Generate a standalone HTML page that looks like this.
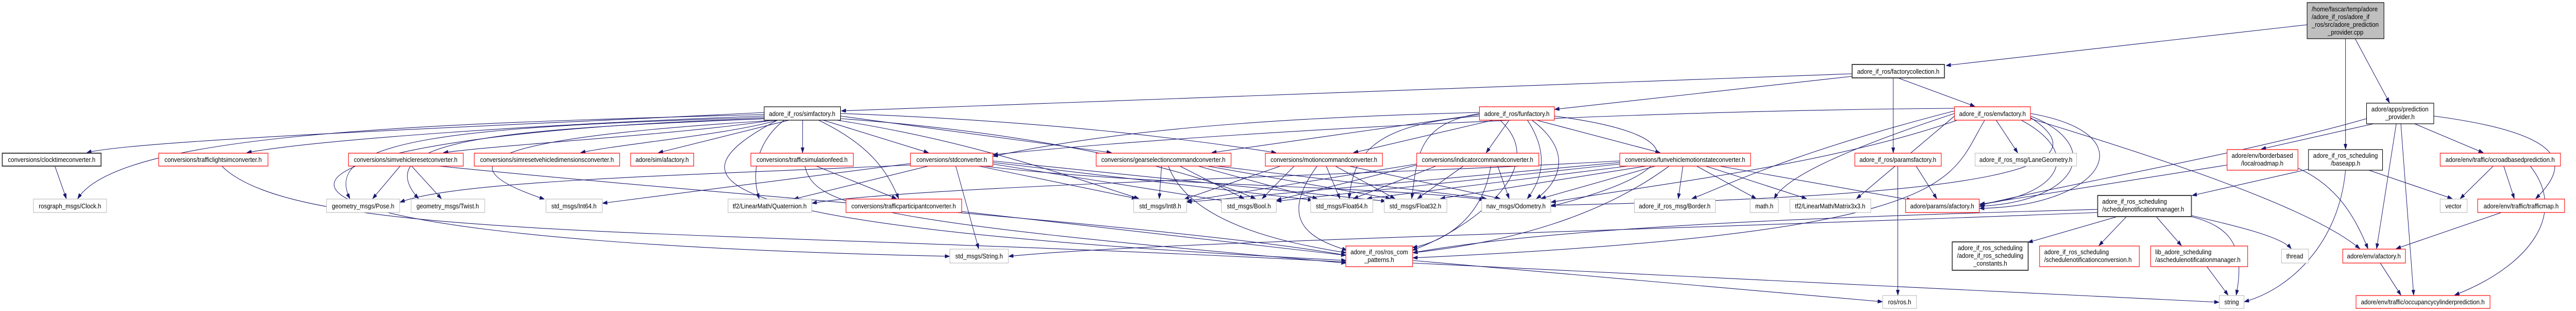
<!DOCTYPE html>
<html><head><meta charset="utf-8"><style>
html,body{margin:0;padding:0;background:#fff;width:100%;height:100%;overflow:hidden;}
svg{display:block;position:absolute;left:0;top:0;width:100vw;height:100vh;overflow:hidden;}
text{font-family:"Liberation Sans",Arial,sans-serif;font-size:13px;fill:#000;}
.e{fill:none;stroke:#191970;stroke-width:1.1;marker-end:url(#a);}
.r{fill:#fff;stroke:#ff0000;stroke-width:1.2;}
.g{fill:#fff;stroke:#bfbfbf;stroke-width:1.2;}
.b{fill:#fff;stroke:#000;stroke-width:1.2;}
.bb{fill:#fff;stroke:#404040;stroke-width:2;}
</style></head><body>
<svg viewBox="0 0 5633 603" preserveAspectRatio="none" xmlns="http://www.w3.org/2000/svg">
<defs><marker id="a" markerUnits="userSpaceOnUse" markerWidth="11" markerHeight="8" refX="10" refY="3.5" orient="auto"><path d="M0,0 L10,3.5 L0,7 z" fill="#191970" stroke="#191970"/></marker></defs>
<g>
<path class="e" d="M5045 48 L4256 127"/>
<path class="e" d="M5129 75 L5129 289"/>
<path class="e" d="M5150 75 L5225 199"/>
<path class="e" d="M4050 143 L1840 215"/>
<path class="e" d="M4050 148 L3400 212"/>
<path class="e" d="M4150 151 L4318 206"/>
<path class="e" d="M4140 151 L4140 296"/>
<path class="e" d="M1671 218 C1200 240, 300 270, 190 296"/>
<path class="e" d="M1671 222 C900 240, 260 260, 170 385"/>
<path class="e" d="M1671 225 C1200 240, 700 270, 540 296"/>
<path class="e" d="M1690 233 C1500 260, 1100 280, 970 296"/>
<path class="e" d="M1700 233 C1600 260, 1350 280, 1270 296"/>
<path class="e" d="M1725 233 L1440 296"/>
<path class="e" d="M1671 228 C1000 245, 700 270, 765 385"/>
<path class="e" d="M1680 230 C1100 250, 800 270, 915 385"/>
<path class="e" d="M1700 233 C1200 260, 900 300, 1190 386"/>
<path class="e" d="M1755 233 L1755 296"/>
<path class="e" d="M1800 233 L2030 296"/>
<path class="e" d="M1838 225 L2430 296"/>
<path class="e" d="M1838 220 C2300 235, 2600 270, 2790 296"/>
<path class="e" d="M1715 233 C1660 270, 1640 330, 1660 385"/>
<path class="e" d="M1790 233 C1900 280, 1940 330, 1965 385"/>
<path class="e" d="M1830 233 C2100 270, 2300 330, 2490 385"/>
<path class="e" d="M1838 230 C2300 260, 2600 330, 2745 385"/>
<path class="e" d="M1700 233 C1450 350, 1500 440, 2943 505"/>
<path class="e" d="M1671 230 C500 260, 200 460, 2076 497"/>
<path class="e" d="M485 322 C650 470, 1500 440, 2943 508"/>
<path class="e" d="M3265 233 L2960 296"/>
<path class="e" d="M3300 233 L3250 296"/>
<path class="e" d="M3360 233 L3630 296"/>
<path class="e" d="M3235 220 C3100 240, 3100 300, 3087 385"/>
<path class="e" d="M3340 233 C3390 300, 3370 350, 3340 385"/>
<path class="e" d="M3350 233 C3450 300, 3400 360, 3360 385"/>
<path class="e" d="M3235 225 C3000 240, 2960 300, 2950 385"/>
<path class="e" d="M3235 222 L2650 296"/>
<path class="e" d="M3235 218 C2700 230, 2400 260, 2172 303"/>
<path class="e" d="M3280 233 C3400 330, 3200 450, 3089 485"/>
<path class="e" d="M3399 225 C3700 260, 3700 330, 3392 400"/>
<path class="e" d="M4365 233 L4412 296"/>
<path class="e" d="M4420 233 C4560 300, 4500 380, 4329 396"/>
<path class="e" d="M4440 225 C4600 280, 4550 390, 4329 400"/>
<path class="e" d="M4440 220 C4700 260, 4600 400, 4329 404"/>
<path class="e" d="M4440 230 C4700 300, 5050 400, 5160 482"/>
<path class="e" d="M4340 233 C4260 350, 4300 450, 3090 500"/>
<path class="e" d="M4440 228 C4600 320, 4400 380, 3392 398"/>
<path class="e" d="M4280 233 C4000 320, 3600 360, 3392 392"/>
<path class="e" d="M4274 220 C4000 300, 3900 350, 3880 385"/>
<path class="e" d="M4274 225 L4060 385"/>
<path class="e" d="M4274 215 C3900 300, 3750 370, 3700 385"/>
<path class="e" d="M4274 210 C3500 215, 2600 260, 2172 300"/>
<path class="e" d="M4150 322 L4150 572"/>
<path class="e" d="M4190 322 L4235 385"/>
<path class="e" d="M3620 322 L3370 385"/>
<path class="e" d="M3680 322 L3670 385"/>
<path class="e" d="M3710 322 L3840 385"/>
<path class="e" d="M3730 322 L3950 385"/>
<path class="e" d="M3760 322 L4180 388"/>
<path class="e" d="M3650 322 C3500 420, 3300 470, 3090 490"/>
<path class="e" d="M3600 322 L3150 385"/>
<path class="e" d="M3560 322 L2990 385"/>
<path class="e" d="M3542 318 L2792 390"/>
<path class="e" d="M3542 315 L2596 392"/>
<path class="e" d="M3542 312 C3000 340, 2000 360, 1776 394"/>
<path class="e" d="M3200 322 L3100 385"/>
<path class="e" d="M3140 322 L2960 385"/>
<path class="e" d="M3275 322 L3300 385"/>
<path class="e" d="M3260 322 C3240 430, 3150 470, 3089 480"/>
<path class="e" d="M3098 320 L2792 388"/>
<path class="e" d="M3098 318 L2596 390"/>
<path class="e" d="M2900 322 L2930 385"/>
<path class="e" d="M2920 322 L3050 385"/>
<path class="e" d="M2950 322 L3280 385"/>
<path class="e" d="M2830 322 L2760 385"/>
<path class="e" d="M2800 322 L2590 386"/>
<path class="e" d="M2880 322 C2800 420, 2850 460, 2945 485"/>
<path class="e" d="M2540 322 L2535 385"/>
<path class="e" d="M2580 322 L2720 385"/>
<path class="e" d="M2620 322 L2880 385"/>
<path class="e" d="M2640 322 L3040 385"/>
<path class="e" d="M2660 322 L3250 385"/>
<path class="e" d="M2555 322 C2600 430, 2800 470, 2943 490"/>
<path class="e" d="M2030 322 L1736 386"/>
<path class="e" d="M2090 322 L2140 482"/>
<path class="e" d="M2140 322 L2485 385"/>
<path class="e" d="M2171 318 L2680 390"/>
<path class="e" d="M2171 315 L2870 388"/>
<path class="e" d="M2171 312 L3030 390"/>
<path class="e" d="M2150 322 C2500 360, 3000 360, 3245 387"/>
<path class="e" d="M1991 317 L1318 394"/>
<path class="e" d="M1991 320 C1500 340, 1000 350, 875 392"/>
<path class="e" d="M875 322 L815 385"/>
<path class="e" d="M900 322 L965 385"/>
<path class="e" d="M960 322 C1600 380, 2600 440, 2943 495"/>
<path class="e" d="M1785 322 L1960 385"/>
<path class="e" d="M1760 322 C1780 400, 1900 430, 2943 510"/>
<path class="e" d="M2103 410 L2943 495"/>
<path class="e" d="M120 322 L145 385"/>
<path class="e" d="M3089 505 L4116 585"/>
<path class="e" d="M3089 510 L4852 586"/>
<path class="e" d="M4587 412 C3500 450, 2500 470, 2206 497"/>
<path class="e" d="M4630 420 L4435 470"/>
<path class="e" d="M4650 420 L4590 476"/>
<path class="e" d="M4715 420 L4770 476"/>
<path class="e" d="M4792 418 C4900 440, 4990 460, 5010 482"/>
<path class="e" d="M4792 420 C4880 440, 4910 480, 4890 572"/>
<path class="e" d="M4587 406 C4000 420, 3400 440, 3090 490"/>
<path class="e" d="M4826 517 L4872 572"/>
<path class="e" d="M5180 330 L5362 385"/>
<path class="e" d="M5129 330 C5115 470, 5010 560, 4908 585"/>
<path class="e" d="M5048 328 L4794 379"/>
<path class="e" d="M5025 326 C5110 360, 5150 420, 5178 482"/>
<path class="e" d="M4870 320 L4330 396"/>
<path class="e" d="M5190 240 L4945 289"/>
<path class="e" d="M5280 240 L5430 296"/>
<path class="e" d="M5322 225 C5620 260, 5620 320, 5545 385"/>
<path class="e" d="M5240 240 L5197 482"/>
<path class="e" d="M5250 240 L5278 572"/>
<path class="e" d="M5175 230 C4900 300, 4500 360, 4330 398"/>
<path class="e" d="M5452 322 L5380 385"/>
<path class="e" d="M5475 322 L5498 385"/>
<path class="e" d="M5533 322 C5620 420, 5520 520, 5368 572"/>
<path class="e" d="M5470 412 L5240 482"/>
<path class="e" d="M5205 510 L5250 572"/>
</g>
<g>
<rect x="5045" y="5" width="168" height="70" fill="#bfbfbf" stroke="#000" stroke-width="1.2"/>
<text x="5055" y="22">/home/fascar/temp/adore</text>
<text x="5055" y="37">/adore_if_ros/adore_if</text>
<text x="5055" y="52">_ros/src/adore_prediction</text>
<text x="5129" y="67" text-anchor="middle">_provider.cpp</text>

<rect class="bb" x="4050" y="125" width="202" height="26"/><text x="4151" y="143" text-anchor="middle">adore_if_ros/factorycollection.h</text>
<rect class="b" x="1671" y="207" width="167" height="26"/><text x="1754" y="225" text-anchor="middle">adore_if_ros/simfactory.h</text>
<rect class="r" x="3235" y="207" width="164" height="26"/><text x="3317" y="225" text-anchor="middle">adore_if_ros/funfactory.h</text>
<rect class="r" x="4274" y="207" width="166" height="26"/><text x="4357" y="225" text-anchor="middle">adore_if_ros/envfactory.h</text>
<rect class="b" x="5175" y="200" width="147" height="40"/><text x="5248" y="216" text-anchor="middle">adore/apps/prediction</text><text x="5248" y="231" text-anchor="middle">_provider.h</text>

<rect class="bb" x="5" y="297" width="216" height="25"/><text x="113" y="314" text-anchor="middle">conversions/clocktimeconverter.h</text>
<rect class="r" x="347" y="297" width="239" height="25"/><text x="466" y="314" text-anchor="middle">conversions/trafficlightsimconverter.h</text>
<rect class="r" x="762" y="297" width="251" height="25"/><text x="887" y="314" text-anchor="middle">conversions/simvehicleresetconverter.h</text>
<rect class="r" x="1037" y="297" width="318" height="25"/><text x="1196" y="314" text-anchor="middle">conversions/simresetvehicledimensionsconverter.h</text>
<rect class="r" x="1379" y="297" width="138" height="25"/><text x="1448" y="314" text-anchor="middle">adore/sim/afactory.h</text>
<rect class="r" x="1642" y="297" width="224" height="25"/><text x="1754" y="314" text-anchor="middle">conversions/trafficsimulationfeed.h</text>
<rect class="r" x="1991" y="297" width="180" height="25"/><text x="2081" y="314" text-anchor="middle">conversions/stdconverter.h</text>
<rect class="r" x="2397" y="297" width="295" height="25"/><text x="2544" y="314" text-anchor="middle">conversions/gearselectioncommandconverter.h</text>
<rect class="r" x="2767" y="297" width="256" height="25"/><text x="2895" y="314" text-anchor="middle">conversions/motioncommandconverter.h</text>
<rect class="r" x="3098" y="297" width="267" height="25"/><text x="3231" y="314" text-anchor="middle">conversions/indicatorcommandconverter.h</text>
<rect class="r" x="3542" y="297" width="286" height="25"/><text x="3685" y="314" text-anchor="middle">conversions/funvehiclemotionstateconverter.h</text>
<rect class="r" x="4056" y="297" width="189" height="25"/><text x="4150" y="314" text-anchor="middle">adore_if_ros/paramsfactory.h</text>
<rect class="g" x="4319" y="297" width="222" height="25"/><text x="4430" y="314" text-anchor="middle">adore_if_ros_msg/LaneGeometry.h</text>
<rect class="r" x="5336" y="297" width="263" height="25"/><text x="5467" y="314" text-anchor="middle">adore/env/traffic/ocroadbasedprediction.h</text>
<rect class="r" x="4870" y="290" width="155" height="40"/><text x="4947" y="306" text-anchor="middle">adore/env/borderbased</text><text x="4947" y="321" text-anchor="middle">/localroadmap.h</text>
<rect class="b" x="5048" y="290" width="162" height="40"/><text x="5129" y="306" text-anchor="middle">adore_if_ros_scheduling</text><text x="5129" y="321" text-anchor="middle">/baseapp.h</text>

<rect class="g" x="73" y="386" width="160" height="26"/><text x="153" y="404" text-anchor="middle">rosgraph_msgs/Clock.h</text>
<rect class="g" x="714" y="386" width="160" height="26"/><text x="794" y="404" text-anchor="middle">geometry_msgs/Pose.h</text>
<rect class="g" x="899" y="386" width="161" height="26"/><text x="979" y="404" text-anchor="middle">geometry_msgs/Twist.h</text>
<rect class="g" x="1194" y="386" width="123" height="26"/><text x="1255" y="404" text-anchor="middle">std_msgs/Int64.h</text>
<rect class="g" x="1592" y="386" width="183" height="26"/><text x="1683" y="404" text-anchor="middle">tf2/LinearMath/Quaternion.h</text>
<rect class="r" x="1850" y="386" width="253" height="26"/><text x="1976" y="404" text-anchor="middle">conversions/trafficparticipantconverter.h</text>
<rect class="g" x="2479" y="386" width="116" height="26"/><text x="2537" y="404" text-anchor="middle">std_msgs/Int8.h</text>
<rect class="g" x="2671" y="386" width="120" height="26"/><text x="2731" y="404" text-anchor="middle">std_msgs/Bool.h</text>
<rect class="g" x="2866" y="386" width="136" height="26"/><text x="2934" y="404" text-anchor="middle">std_msgs/Float64.h</text>
<rect class="g" x="3027" y="386" width="137" height="26"/><text x="3095" y="404" text-anchor="middle">std_msgs/Float32.h</text>
<rect class="g" x="3240" y="386" width="151" height="26"/><text x="3315" y="404" text-anchor="middle">nav_msgs/Odometry.h</text>
<rect class="g" x="3574" y="386" width="177" height="26"/><text x="3662" y="404" text-anchor="middle">adore_if_ros_msg/Border.h</text>
<rect class="g" x="3827" y="386" width="62" height="26"/><text x="3858" y="404" text-anchor="middle">math.h</text>
<rect class="g" x="3914" y="386" width="177" height="26"/><text x="4002" y="404" text-anchor="middle">tf2/LinearMath/Matrix3x3.h</text>
<rect class="r" x="4167" y="386" width="161" height="26"/><text x="4247" y="404" text-anchor="middle">adore/params/afactory.h</text>
<rect class="g" x="5336" y="386" width="59" height="26"/><text x="5365" y="404" text-anchor="middle">vector</text>
<rect class="r" x="5418" y="386" width="190" height="26"/><text x="5513" y="404" text-anchor="middle">adore/env/traffic/trafficmap.h</text>
<rect class="bb" x="4587" y="379" width="205" height="41"/><text x="4597" y="395">adore_if_ros_scheduling</text><text x="4597" y="410">/schedulenotificationmanager.h</text>

<rect class="r" x="2943" y="477" width="146" height="40"/><text x="3016" y="493" text-anchor="middle">adore_if_ros/ros_com</text><text x="3016" y="508" text-anchor="middle">_patterns.h</text>
<rect class="g" x="2077" y="483" width="128" height="27"/><text x="2141" y="501" text-anchor="middle">std_msgs/String.h</text>
<rect class="bb" x="4269" y="469" width="166" height="55"/><text x="4352" y="485" text-anchor="middle">adore_if_ros_scheduling</text><text x="4352" y="500" text-anchor="middle">/adore_if_ros_scheduling</text><text x="4352" y="515" text-anchor="middle">_constants.h</text>
<rect class="r" x="4460" y="477" width="218" height="40"/><text x="4470" y="493">adore_if_ros_scheduling</text><text x="4470" y="508">/schedulenotificationconversion.h</text>
<rect class="r" x="4703" y="477" width="212" height="40"/><text x="4713" y="493">lib_adore_scheduling</text><text x="4713" y="508">/aschedulenotificationmanager.h</text>
<rect class="g" x="4989" y="483" width="59" height="27"/><text x="5018" y="501" text-anchor="middle">thread</text>
<rect class="r" x="5123" y="483" width="137" height="27"/><text x="5191" y="501" text-anchor="middle">adore/env/afactory.h</text>

<rect class="g" x="4117" y="573" width="74" height="25"/><text x="4154" y="590" text-anchor="middle">ros/ros.h</text>
<rect class="g" x="4853" y="573" width="54" height="25"/><text x="4880" y="590" text-anchor="middle">string</text>
<rect class="r" x="5152" y="573" width="293" height="25"/><text x="5298" y="590" text-anchor="middle">adore/env/traffic/occupancycylinderprediction.h</text>
</g>
</svg>
</body></html>
